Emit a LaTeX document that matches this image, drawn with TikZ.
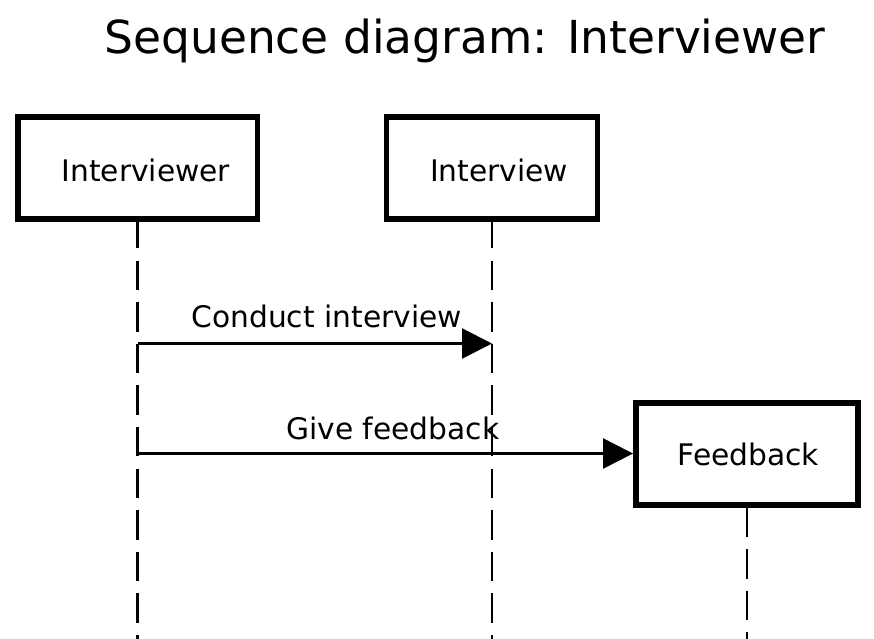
\documentclass[tikz,border=0pt]{standalone}
\usepackage{fontspec}
\setmainfont{DejaVu Sans}
\usetikzlibrary{arrows.meta,calc}
\begin{document}
\begin{tikzpicture}[x=1pt,y=-1pt,
  objbox/.style={draw=black,line width=5.5pt,minimum width=#1,minimum height=101.9pt,inner sep=0pt},
  objtext/.style={anchor=base,font=\fontsize{29.7}{36}\selectfont,inner sep=0pt},
  lifeline/.style={draw=black,line width=2.3pt,dash pattern=on 29.3pt off 12.3pt},
  msg/.style={draw=black,line width=2.3pt,-{Triangle[length=30pt,width=30pt]}},
  msglabel/.style={anchor=base,font=\fontsize{29.7}{36}\selectfont,inner sep=0pt}]
\useasboundingbox (0,0) rectangle (874,638);
\node[anchor=base,font=\fontsize{45.5}{54}\selectfont,inner sep=0pt] (title) at (465,53.7) {Sequence diagram: Interviewer};
% objects
\node[objbox=239.5pt] (ivr) at (137.5,168) {};
\node[objbox=211pt] (ivw) at (492,168) {};
\node[objbox=222pt] (fb) at (746.8,453.9) {};
\node[objtext] (ivrt) at (145.8,181.7) {Interviewer};
\node[objtext] (ivwt) at (499.2,181.7) {Interview};
\node[objtext] (fbt) at (748.3,465) {Feedback};
% lifeline ends
\coordinate (ivrend) at (137.5,640);
\coordinate (ivwend) at (492,640);
\coordinate (fbend) at (746.8,640);
\draw[lifeline,dash phase=2.7pt] (ivr.south) -- (ivrend);
\draw[lifeline,dash phase=2.7pt] (ivw.south) -- (ivwend);
\draw[lifeline] (fb.south) -- (fbend);
% messages
\coordinate (m1a) at (137.5,343.5);
\coordinate (m1b) at (492,343.5);
\coordinate (m2a) at (137.5,453.5);
\draw[msg] (m1a) -- node[msglabel,xshift=12pt,yshift=16.5pt] (m1l) {Conduct interview} (m1b);
\draw[msg] (m2a) -- node[msglabel,xshift=7.6pt,yshift=14.2pt] (m2l) {Give feedback} (m2a -| fb.west);
\end{tikzpicture}
\end{document}
